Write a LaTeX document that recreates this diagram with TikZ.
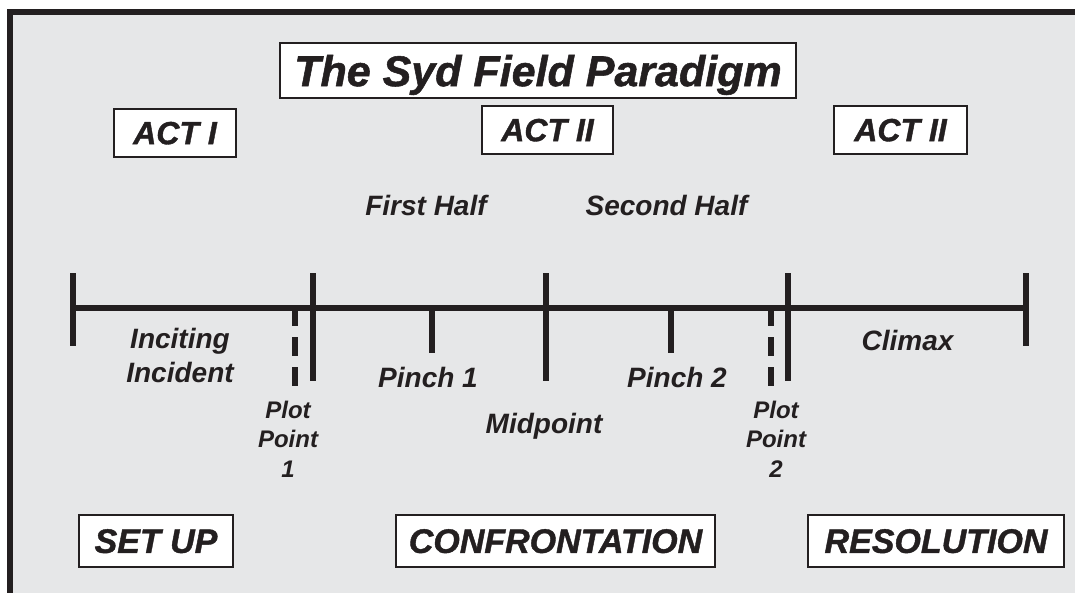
\documentclass[tikz,border=0pt]{standalone}
\usepackage{fontspec}
\setmainfont{Liberation Sans}
\newfontfamily\heavyfont{Liberation Sans}[BoldItalicFeatures={FakeBold=1.2}]
\usetikzlibrary{calc}
\definecolor{ink}{RGB}{35,31,32}
\definecolor{panel}{RGB}{230,231,232}

\tikzset{
  frame/.style={draw=ink, line width=2pt, fill=white, inner sep=0pt, text=ink, text depth=0pt},
  headline/.style={frame, font=\heavyfont\bfseries\itshape\fontsize{43}{43}\selectfont},
  actbox/.style={frame, minimum height=48pt, font=\heavyfont\bfseries\itshape\fontsize{32}{32}\selectfont},
  phasebox/.style={frame, minimum height=52pt, font=\heavyfont\bfseries\itshape\fontsize{34}{34}\selectfont},
  lbl/.style={text=ink, inner sep=0pt, anchor=base, align=center, font=\bfseries\itshape\fontsize{28}{34}\selectfont},
  small/.style={lbl, font=\bfseries\itshape\fontsize{24}{29.5}\selectfont},
  rule/.style={draw=ink, line width=6pt},
  dashrule/.style={rule, dash pattern=on 19pt off 11pt}
}

\begin{document}
\begin{tikzpicture}[x=1pt, y=-1pt]
\useasboundingbox (0,0) rectangle (1075,592);

% panel with its heavy top and left edge
\fill[panel] (10,12) rectangle (1090,610);
\draw[ink, line width=6pt] (10,610) -- (10,12) -- (1090,12);

% title and act boxes
\node[headline, minimum width=516pt, minimum height=55pt] (title) at (538,70.5) {The Syd Field Paradigm};
\node[actbox, minimum width=122pt] (act1) at (175,133) {ACT I};
\node[actbox, minimum width=131pt] (act2) at (547.5,130) {ACT II};
\node[actbox, minimum width=133pt] (act3) at (900.5,130) {ACT II};

\node[lbl] (half1) at (426,215) {First Half};
\node[lbl] (half2) at (666.5,215) {Second Half};

% timeline
\coordinate (t0) at (73,308);
\coordinate (t1) at (313,308);
\coordinate (tm) at (546,308);
\coordinate (t2) at (788,308);
\coordinate (t3) at (1026,308);
\coordinate (p1) at (432,308);
\coordinate (p2) at (671,308);
\coordinate (d1) at (295,307);
\coordinate (d2) at (771,307);

\draw[rule] (t0) -- (t3);
\draw[rule] ($(t0)+(0,-35)$) -- ($(t0)+(0,38)$);
\draw[rule] ($(t3)+(0,-35)$) -- ($(t3)+(0,38)$);
\foreach \c in {t1,tm,t2}
  \draw[rule] ($(\c)+(0,-35)$) -- ($(\c)+(0,73)$);
\foreach \c in {p1,p2}
  \draw[rule] (\c) -- ($(\c)+(0,45)$);
\foreach \c in {d1,d2}
  \draw[dashrule] (\c) -- ($(\c)+(0,80)$);

% beat labels (multi-line labels sit on the baseline of their last line)
\node[lbl] (inc) at (180,382) {Inciting\\Incident};
\node[small] (pp1) at (288,477) {Plot\\Point\\1};
\node[lbl] (pin1) at (428,387) {Pinch 1};
\node[lbl] (midp) at (544,433) {Midpoint};
\node[lbl] (pin2) at (677,387) {Pinch 2};
\node[small] (pp2) at (776,477) {Plot\\Point\\2};
\node[lbl] (clim) at (907.5,350) {Climax};

% phase boxes
\node[phasebox, minimum width=154pt] (setup) at (156,541) {SET UP};
\node[phasebox, minimum width=319pt] (conf) at (555.5,541) {CONFRONTATION};
\node[phasebox, minimum width=256pt] (reso) at (936,541) {RESOLUTION};
\end{tikzpicture}
\end{document}
